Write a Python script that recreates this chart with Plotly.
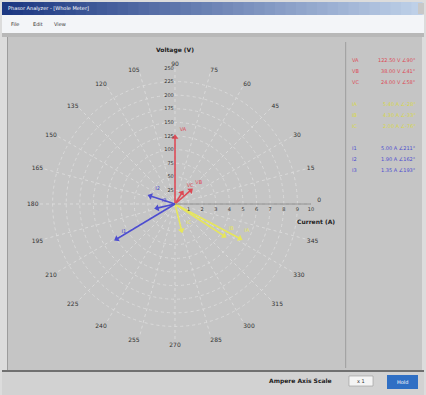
import plotly.graph_objects as go

W, H = 426, 395

# Phasor readings: voltages (red) on the voltage scale, currents on the ampere scale
volt_names = ["VA", "VB", "VC"]
volt_mag = [122.5, 38.0, 24.0]
volt_ang = [90.0, 41.0, 58.0]

curr_a_names = ["IA", "IB", "IC"]
curr_a_mag = [5.4, 4.3, 2.0]
curr_a_ang = [-28.0, -33.0, -76.0]

curr_b_names = ["I1", "I2", "I3"]
curr_b_mag = [5.0, 1.9, 1.35]
curr_b_ang = [211.0, 162.0, 193.0]

# Axis scales
volt_ticks = [25, 50, 75, 100, 125, 150, 175, 200, 225, 250]
amp_ticks = [1, 2, 3, 4, 5, 6, 7, 8, 9, 10]
angle_ticks = list(range(0, 360, 15))

RED, YEL, BLU = "#dc4a55", "#e6e65a", "#4d4dcf"


def px(x, y):
    return x / W, 1 - y / H


fig = go.Figure()


def add_phasors(names, mags, angs, color, subplot):
    for n, m, a in zip(names, mags, angs):
        fig.add_trace(go.Scatterpolar(
            r=[0, m], theta=[a, a], mode="lines", subplot=subplot,
            line=dict(color=color, width=1.6), hoverinfo="skip", showlegend=False))
        fig.add_trace(go.Scatterpolar(
            r=[m], theta=[a], mode="markers+text", subplot=subplot,
            marker=dict(symbol="triangle-up", size=6, color=color, angle=90 - a),
            text=[n], textposition="top right",
            textfont=dict(size=5, color=color, family="DejaVu Sans"),
            hoverinfo="skip", showlegend=False))


add_phasors(volt_names, volt_mag, volt_ang, RED, "polar")
add_phasors(curr_a_names, curr_a_mag, curr_a_ang, YEL, "polar2")
add_phasors(curr_b_names, curr_b_mag, curr_b_ang, BLU, "polar2")

cx, cy, R = 175, 204, 136
dom_x = [(cx - R) / W, (cx + R) / W]
dom_y = [1 - (cy + R) / H, 1 - (cy - R) / H]

tickfont = dict(size=6, color="#333333", family="DejaVu Sans")

shapes = []
annotations = []


def rect(x0, y0, x1, y1, color, line=None):
    a0, b0 = px(x0, y0)
    a1, b1 = px(x1, y1)
    shapes.append(dict(type="rect", xref="paper", yref="paper", x0=a0, y0=b1, x1=a1, y1=b0,
                       fillcolor=color, line=dict(width=0) if line is None else line,
                       layer="below"))


def text(x, y, s, size=6, color="#222222", bold=False, anchor="left"):
    a, b = px(x, y)
    annotations.append(dict(xref="paper", yref="paper", x=a, y=b, text=f"<b>{s}</b>" if bold else s,
                            showarrow=False, xanchor=anchor, yanchor="middle",
                            font=dict(size=size, color=color, family="DejaVu Sans")))


# Window frame
rect(0, 0, W, H, "#dcdcdc")
# Title bar gradient
n = 40
c0, c1 = (28, 56, 130), (190, 208, 232)
for i in range(n):
    t = i / (n - 1)
    c = tuple(int(c0[k] + (c1[k] - c0[k]) * t) for k in range(3))
    rect(2 + i * (420 / n), 2, 2 + (i + 1) * (420 / n) + 0.5, 15, f"rgb{c}")
rect(418, 3, 424, 14, "#c8c8c8")
text(6, 8.5, "Phasor Analyzer - [Whole Meter]", size=5, color="#ffffff")
# Menu bar
rect(2, 15, 424, 33, "#f3f5f8")
for x, s in [(9, "File"), (31, "Edit"), (52, "View")]:
    text(x, 24, s, size=5, color="#333333")
rect(2, 33, 424, 37, "#b8b8b8")
# Main panel
rect(7, 37, 422, 370, "#c5c5c5")
rect(7, 37, 8, 370, "#9c9c9c")
rect(345, 42, 346.2, 368, "#a4a4a4")
# Bottom bar
rect(2, 370, 424, 372, "#707070")
rect(2, 372, 424, 395, "#d2d2d2")
text(300, 381, "Ampere Axis Scale", size=6, color="#222222", bold=True, anchor="center")
rect(349, 376, 373, 386, "#f4f4f4", line=dict(color="#999999", width=0.6))
text(361, 381, "x 1", size=5, color="#333333", anchor="center")
rect(387, 375, 418, 389, "#2f6fc4")
text(402.5, 382, "Hold", size=5, color="#ffffff", anchor="center")

# Axis titles
text(175, 50, "Voltage (V)", size=6, bold=True, anchor="center")
text(316, 221, "Current (A)", size=6, bold=True, anchor="center")

# Readings panel
rows = []
for n_, m, a in zip(volt_names, volt_mag, volt_ang):
    rows.append((n_, f"{m:.2f} V", a, RED))
rows.append(None)
for n_, m, a in zip(curr_a_names, curr_a_mag, curr_a_ang):
    rows.append((n_, f"{m:.2f} A", a, "#d8d84a"))
rows.append(None)
for n_, m, a in zip(curr_b_names, curr_b_mag, curr_b_ang):
    rows.append((n_, f"{m:.2f} A", a, BLU))
y = 60
for row in rows:
    if row is None:
        y += 11
        continue
    n_, v, a, col = row
    text(350, y, n_, size=5, color=col)
    text(418, y, f"{v} ∠{a:.0f}°", size=5, color=col, anchor="right")
    y += 11

# Angle labels; the 0° label is padded so it clears the ampere scale
angle_text = [str(a) for a in angle_ticks]
angle_text[0] = "&nbsp;&nbsp;&nbsp;0<br>&nbsp;"

fig.update_layout(
    width=W, height=H, margin=dict(l=0, r=0, t=0, b=0),
    paper_bgcolor="#c5c5c5",
    shapes=shapes, annotations=annotations,
    polar=dict(
        domain=dict(x=dom_x, y=dom_y),
        bgcolor="rgba(0,0,0,0)",
        angularaxis=dict(rotation=0, direction="counterclockwise", tickvals=angle_ticks,
                         ticktext=angle_text, showline=False, ticks="",
                         gridcolor="#dadada", griddash="dot", gridwidth=1, tickfont=tickfont),
        radialaxis=dict(range=[0, 250], tickvals=volt_ticks, angle=90, tickangle=90,
                        showline=False, ticks="", gridcolor="#dadada", griddash="dot",
                        tickfont=dict(size=5, color="#333333", family="DejaVu Sans"),
                        side="counterclockwise"),
    ),
    polar2=dict(
        domain=dict(x=dom_x, y=dom_y),
        bgcolor="rgba(0,0,0,0)",
        angularaxis=dict(rotation=0, direction="counterclockwise", showgrid=False,
                         showticklabels=False, showline=False, ticks=""),
        radialaxis=dict(range=[0, 10], tickvals=amp_ticks, angle=0, tickangle=0,
                        showgrid=False, showline=True, linecolor="#8a8a8a", ticks="",
                        tickfont=dict(size=5, color="#333333", family="DejaVu Sans"),
                        side="clockwise"),
    ),
)

fig.write_html("out.html")
